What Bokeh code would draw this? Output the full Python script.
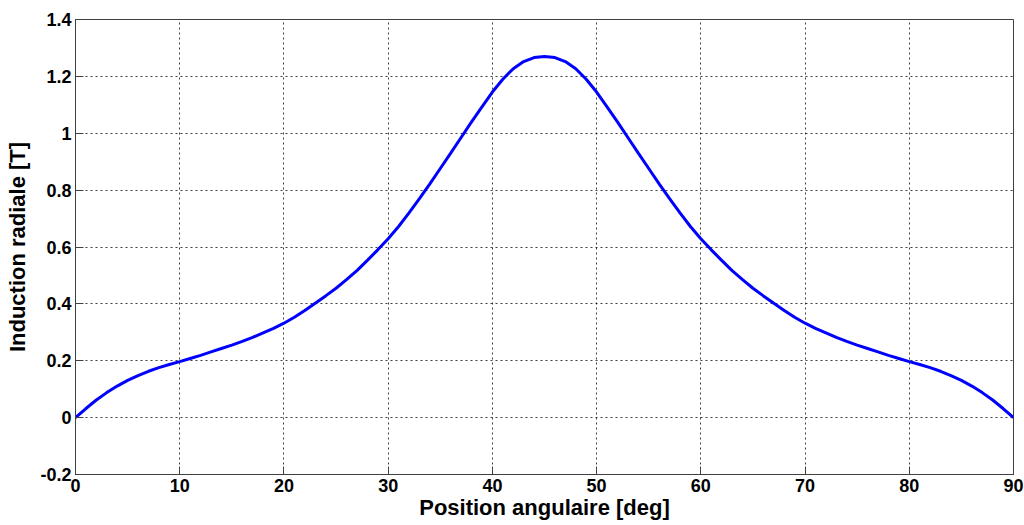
from bokeh.plotting import figure
from bokeh.models import Range1d, FixedTicker, CustomJSTickFormatter
from bokeh.embed import file_html
from bokeh.resources import INLINE

angle_deg = list(range(0, 91))
induction_T = [
    0.000, 0.032, 0.062, 0.088, 0.111, 0.131, 0.148, 0.163, 0.176, 0.187,
    0.197, 0.208, 0.219, 0.231, 0.243, 0.255, 0.268, 0.282, 0.298, 0.314,
    0.332, 0.353, 0.377, 0.402, 0.428, 0.455, 0.485, 0.517, 0.553, 0.590,
    0.629, 0.672, 0.720, 0.770, 0.822, 0.876, 0.930, 0.985, 1.040, 1.093,
    1.145, 1.190, 1.227, 1.252, 1.266, 1.270, 1.266, 1.252, 1.227, 1.190,
    1.145, 1.093, 1.040, 0.985, 0.930, 0.876, 0.822, 0.770, 0.720, 0.672,
    0.629, 0.590, 0.553, 0.517, 0.485, 0.455, 0.428, 0.402, 0.377, 0.353,
    0.332, 0.314, 0.298, 0.282, 0.268, 0.255, 0.243, 0.231, 0.219, 0.208,
    0.197, 0.187, 0.176, 0.163, 0.148, 0.131, 0.111, 0.088, 0.062, 0.032,
    0.000]

x_ticks = [0, 10, 20, 30, 40, 50, 60, 70, 80, 90]
y_ticks = [-0.2, 0, 0.2, 0.4, 0.6, 0.8, 1.0, 1.2, 1.4]

FONT = "Liberation Sans"

p = figure(width=1024, height=525, output_backend="svg", toolbar_location=None,
           x_range=Range1d(0, 90), y_range=Range1d(-0.2, 1.4),
           min_border_left=75, min_border_right=11, min_border_top=19, min_border_bottom=51)
p.background_fill_color = "white"
p.border_fill_color = "white"
p.outline_line_color = "#404040"
p.outline_line_width = 1

p.line(angle_deg, induction_T, line_color="#0000FF", line_width=3)

fmt = CustomJSTickFormatter(code="return Number(tick.toFixed(1)).toString();")

for ax in (p.xaxis[0], p.yaxis[0]):
    ax.major_label_text_font = FONT
    ax.major_label_text_font_style = "bold"
    ax.major_label_text_font_size = "18px"
    ax.major_label_text_color = "black"
    ax.axis_label_text_font = FONT
    ax.axis_label_text_font_style = "bold"
    ax.axis_label_text_font_size = "22px"
    ax.axis_label_text_color = "black"
    ax.axis_line_color = "#404040"
    ax.major_tick_line_color = "#404040"
    ax.major_tick_in = 8
    ax.major_tick_out = 0
    ax.minor_tick_line_color = None
    ax.formatter = fmt

p.xaxis[0].major_label_standoff = 4
p.xaxis[0].axis_label_standoff = 0
p.yaxis[0].major_label_standoff = 4
p.yaxis[0].axis_label_standoff = 7

p.xaxis[0].ticker = FixedTicker(ticks=x_ticks)
p.yaxis[0].ticker = FixedTicker(ticks=y_ticks)
p.xaxis[0].axis_label = "Position angulaire [deg]"
p.yaxis[0].axis_label = "Induction radiale [T]"

p.xgrid[0].ticker = FixedTicker(ticks=x_ticks)
p.ygrid[0].ticker = FixedTicker(ticks=y_ticks)
for g in (p.xgrid[0], p.ygrid[0]):
    g.grid_line_color = "black"
    g.grid_line_alpha = 0.75
    g.grid_line_dash = "2 3"
    g.grid_line_width = 1

open("out.html", "w").write(file_html(p, INLINE))
